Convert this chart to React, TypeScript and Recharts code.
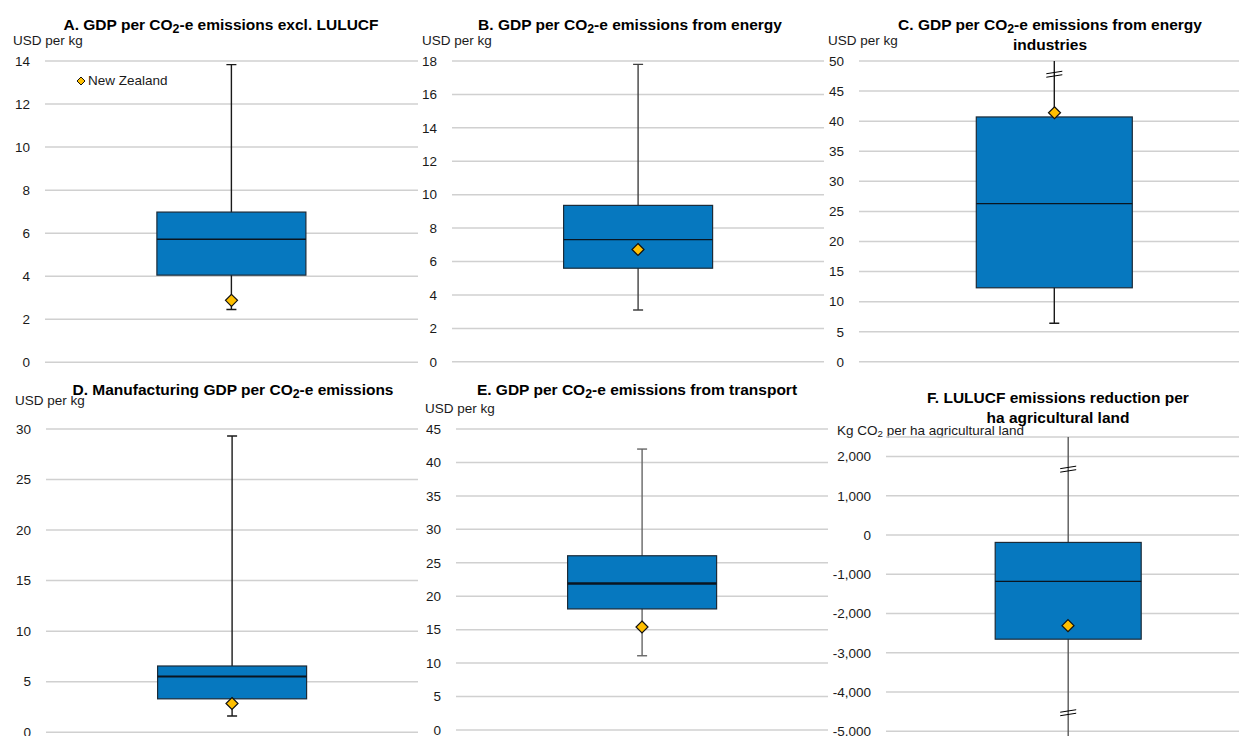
import React from "react";
import { Bar, CartesianGrid, ComposedChart, Line, XAxis, YAxis } from "recharts";

const titles = [
  "A. GDP per CO2-e emissions excl. LULUCF",
  "B. GDP per CO2-e emissions from energy",
  "C. GDP per CO2-e emissions from energy\nindustries",
  "D. Manufacturing GDP per CO2-e emissions",
  "E. GDP per CO2-e emissions from transport",
  "F. LULUCF emissions reduction per\nha agricultural land",
];
const units = [
  "USD per kg",
  "USD per kg",
  "USD per kg",
  "USD per kg",
  "USD per kg",
  "Kg CO2 per ha agricultural land",
];

// box plot values per panel (A..F)
const whiskerLow = [2.45, 3.1, 6.4, 1.6, 11.1, -7000];
const quartile1 = [4.05, 5.6, 12.3, 3.3, 18.1, -2655];
const medians = [5.72, 7.31, 26.3, 5.5, 21.9, -1183];
const quartile3 = [6.98, 9.36, 40.7, 6.55, 26.05, -188];
const whiskerHigh = [13.83, 17.8, 80, 29.3, 42.0, 4000];
const newZealand = [2.88, 6.72, 41.4, 2.84, 15.4, -2310];
// where the whisker is drawn broken (value off the scale)
const axisBreaks = [[], [], [47.8], [], [], [1680, -4530]];

const yTicks = [
  [0, 2, 4, 6, 8, 10, 12, 14],
  [0, 2, 4, 6, 8, 10, 12, 14, 16, 18],
  [0, 5, 10, 15, 20, 25, 30, 35, 40, 45, 50],
  [0, 5, 10, 15, 20, 25, 30],
  [0, 5, 10, 15, 20, 25, 30, 35, 40, 45],
  [-5000, -4000, -3000, -2000, -1000, 0, 1000, 2000],
];
const yDomains = [
  [0, 14],
  [0, 18],
  [0, 50],
  [0, 30],
  [0, 45],
  [-5200, 2500],
];

const FONT = '"Liberation Sans", Arial, sans-serif';
const BOX_FILL = "#0678bf";
const NZ_FILL = "#ffbf00";

const LAYOUT = [
  { left: 0, plotLeft: 45, plotRight: 418, plotTop: 60.7, plotBottom: 362, titleX: 221, titleTop: 15, unitX: 13, unitTop: 32.5, whisker: "#1a1a1a", median: 1.5 },
  { left: 413, plotLeft: 452, plotRight: 824, plotTop: 60.7, plotBottom: 361.5, titleX: 630, titleTop: 15, unitX: 422, unitTop: 32.5, whisker: "#404040", median: 1.3 },
  { left: 826, plotLeft: 859, plotRight: 1250, plotTop: 61, plotBottom: 361.8, titleX: 1050, titleTop: 15, unitX: 828, unitTop: 32.5, whisker: "#1a1a1a", median: 1.3 },
  { left: 0, plotLeft: 46, plotRight: 418, plotTop: 428.5, plotBottom: 731.7, titleX: 233, titleTop: 380, unitX: 15, unitTop: 392.5, whisker: "#1a1a1a", median: 2 },
  { left: 413, plotLeft: 456, plotRight: 828, plotTop: 429.3, plotBottom: 730.3, titleX: 637, titleTop: 380, unitX: 425, unitTop: 400.5, whisker: "#666666", median: 2.5 },
  { left: 826, plotLeft: 886, plotRight: 1250, plotTop: 437, plotBottom: 739, titleX: 1058, titleTop: 388, unitX: 837, unitTop: 422.5, whisker: "#595959", median: 1.3 },
];

function withSub(text: string, bold: boolean) {
  const parts = text.split("CO2");
  const out: React.ReactNode[] = [];
  parts.forEach((p, i) => {
    if (i > 0) {
      out.push(
        <span key={"s" + i}>
          CO
          <sub style={{ fontSize: bold ? "0.8em" : "0.72em", verticalAlign: "-0.25em", lineHeight: 0 }}>2</sub>
        </span>
      );
    }
    out.push(<React.Fragment key={"t" + i}>{p}</React.Fragment>);
  });
  return out;
}

function BoxShape(props: any) {
  const { x, y, width, height, payload, whiskerColor, medianWidth } = props;
  const [lo, hi] = payload.whisker;
  const toY = (v: number) => y + (height * (hi - v)) / (hi - lo);
  const cx = x + width / 2;
  const top = toY(payload.q3);
  const bottom = toY(payload.q1);
  const med = toY(payload.median);
  const yHi = toY(hi);
  const yLo = toY(lo);
  return (
    <g>
      <line x1={cx} x2={cx} y1={yHi} y2={yLo} stroke={whiskerColor} strokeWidth={1.4} />
      <line x1={cx - 5} x2={cx + 5} y1={yHi} y2={yHi} stroke={whiskerColor} strokeWidth={1.4} />
      <line x1={cx - 5} x2={cx + 5} y1={yLo} y2={yLo} stroke={whiskerColor} strokeWidth={1.4} />
      {payload.breaks.map((b: number) => {
        const yb = toY(b);
        return (
          <g key={b}>
            <line x1={cx - 8} x2={cx + 8} y1={yb - 0.5} y2={yb - 3} stroke="#000" strokeWidth={1} />
            <line x1={cx - 8} x2={cx + 8} y1={yb + 3} y2={yb + 0.5} stroke="#000" strokeWidth={1} />
          </g>
        );
      })}
      <rect x={x} y={top} width={width} height={bottom - top} fill={BOX_FILL} stroke="#1c2b38" strokeWidth={1.2} />
      <line x1={x} x2={x + width} y1={med} y2={med} stroke="#0a1520" strokeWidth={medianWidth} />
    </g>
  );
}

function Diamond(props: any) {
  const { cx, cy } = props;
  if (cx == null || cy == null) return <g />;
  const r = 6;
  return (
    <path
      d={`M${cx},${cy - r}L${cx + r},${cy}L${cx},${cy + r}L${cx - r},${cy}Z`}
      fill={NZ_FILL}
      stroke="#111"
      strokeWidth={1.2}
    />
  );
}

function Panel({ i }: { i: number }) {
  const L = LAYOUT[i];
  const rows = [
    {
      name: "OECD",
      whisker: [whiskerLow[i], whiskerHigh[i]],
      q1: quartile1[i],
      median: medians[i],
      q3: quartile3[i],
      nz: newZealand[i],
      breaks: axisBreaks[i],
    },
  ];
  return (
    <>
      <div
        style={{
          position: "absolute",
          left: L.titleX,
          top: L.titleTop,
          transform: "translateX(-50%)",
          whiteSpace: "pre",
          textAlign: "center",
          fontFamily: FONT,
          fontWeight: "bold",
          fontSize: 15.5,
          lineHeight: "20px",
          color: "#000",
        }}
      >
        {titles[i].split("\n").map((line, k) => (
          <div key={k}>{withSub(line, true)}</div>
        ))}
      </div>
      <div
        style={{
          position: "absolute",
          left: L.unitX,
          top: L.unitTop,
          whiteSpace: "nowrap",
          fontFamily: FONT,
          fontSize: 13.5,
          lineHeight: "16px",
          color: "#1a1a1a",
        }}
      >
        {withSub(units[i], false)}
      </div>
      <div style={{ position: "absolute", left: L.left, top: L.plotTop - 10 }}>
        <ComposedChart
          width={L.plotRight - L.left}
          height={L.plotBottom - L.plotTop + 20}
          data={rows}
          margin={{ top: 10, bottom: 10, left: 0, right: 0 }}
          barCategoryGap="30%"
        >
          <CartesianGrid vertical={false} stroke="#d0d0d0" strokeWidth={1.5} />
          <XAxis dataKey="name" hide />
          <YAxis
            width={L.plotLeft - L.left}
            domain={yDomains[i]}
            ticks={yTicks[i]}
            interval={0}
            allowDataOverflow
            axisLine={false}
            tickLine={false}
            tickSize={0}
            tickMargin={15}
            tick={{ fontSize: 13.5, fill: "#1a1a1a", fontFamily: FONT }}
            tickFormatter={(v) => Number(v).toLocaleString("en-US")}
          />
          <Bar
            dataKey="whisker"
            isAnimationActive={false}
            shape={(p: any) => <BoxShape {...p} whiskerColor={L.whisker} medianWidth={L.median} />}
          />
          <Line
            dataKey="nz"
            stroke="none"
            dot={(p: any) => <Diamond key="nz" {...p} />}
            activeDot={false}
            isAnimationActive={false}
          />
        </ComposedChart>
      </div>
    </>
  );
}

export default function App() {
  return (
    <div
      style={{
        position: "absolute",
        left: 0,
        top: 0,
        width: 1239,
        height: 736,
        overflow: "hidden",
        background: "#fff",
      }}
    >
      {[0, 1, 2, 3, 4, 5].map((i) => (
        <Panel key={i} i={i} />
      ))}
      <svg style={{ position: "absolute", left: 76, top: 75.5 }} width={10} height={10}>
        <path d="M5,1L9,5L5,9L1,5Z" fill={NZ_FILL} stroke="#111" strokeWidth={1} />
      </svg>
      <div
        style={{
          position: "absolute",
          left: 88,
          top: 72.5,
          fontFamily: FONT,
          fontSize: 13.5,
          lineHeight: "16px",
          color: "#1a1a1a",
          whiteSpace: "nowrap",
        }}
      >
        New Zealand
      </div>
    </div>
  );
}
